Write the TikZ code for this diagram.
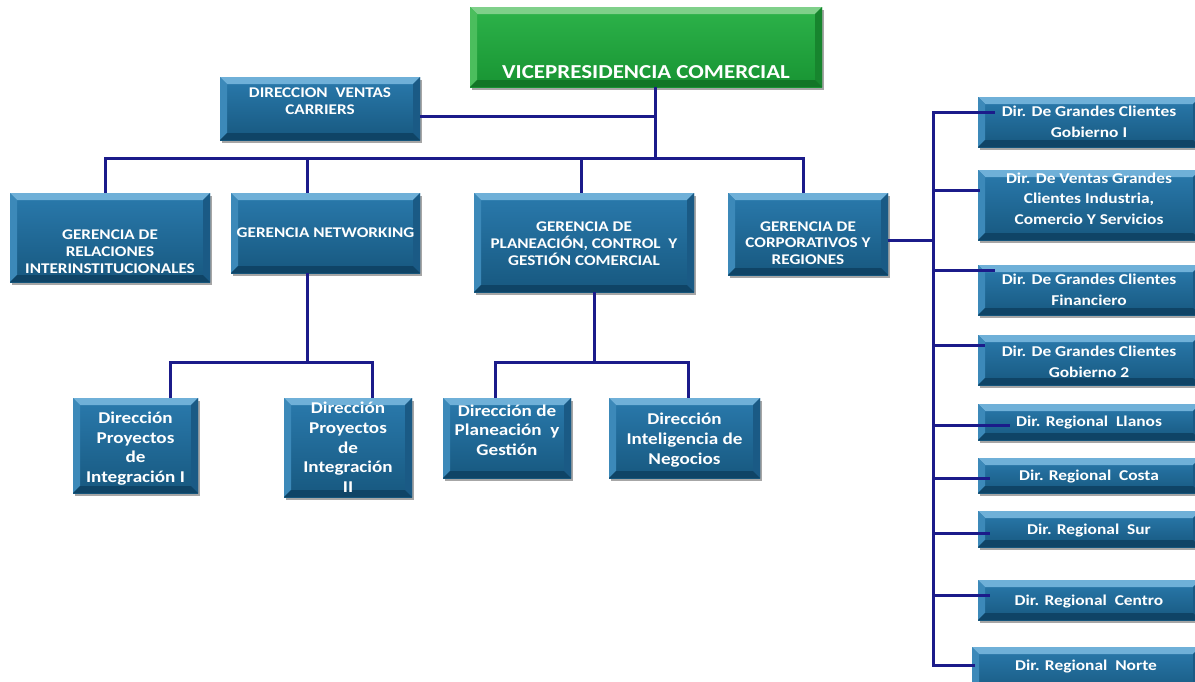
\documentclass[tikz,border=0pt]{standalone}
\usepackage{fontspec}
\setmainfont{Carlito}
\newfontfamily\carlw{Carlito}[FakeStretch=1.16]
\usetikzlibrary{shadows}
\definecolor{bT}{HTML}{2A7AAD}\definecolor{bB}{HTML}{17587F}
\definecolor{bHi}{HTML}{6FB0D8}\definecolor{bL}{HTML}{3C89B9}
\definecolor{bR}{HTML}{1A5A85}\definecolor{bD}{HTML}{0F4466}
\definecolor{gT}{HTML}{2DB34A}\definecolor{gB}{HTML}{189433}
\definecolor{gHi}{HTML}{7FD08A}\definecolor{gL}{HTML}{4BBE5D}
\definecolor{gR}{HTML}{17852E}\definecolor{gD}{HTML}{117526}
\definecolor{navy}{HTML}{1B1B8A}
\newcommand\mybevel[4]{%
 \fill[#1] (path picture bounding box.north west) -- (path picture bounding box.north east) -- ([shift={(-7pt,-7pt)}]path picture bounding box.north east) -- ([shift={(7pt,-7pt)}]path picture bounding box.north west) -- cycle;
 \fill[#2] (path picture bounding box.north west) -- (path picture bounding box.south west) -- ([shift={(7pt,7pt)}]path picture bounding box.south west) -- ([shift={(7pt,-7pt)}]path picture bounding box.north west) -- cycle;
 \fill[#3] (path picture bounding box.north east) -- (path picture bounding box.south east) -- ([shift={(-7pt,7pt)}]path picture bounding box.south east) -- ([shift={(-7pt,-7pt)}]path picture bounding box.north east) -- cycle;
 \fill[#4] (path picture bounding box.south west) -- (path picture bounding box.south east) -- ([shift={(-7pt,7pt)}]path picture bounding box.south east) -- ([shift={(7pt,7pt)}]path picture bounding box.south west) -- cycle;}
\tikzset{
 bbox/.style={draw=none, inner sep=0pt, top color=bT, bottom color=bB,
   drop shadow={shadow xshift=2pt,shadow yshift=-3pt,opacity=0.35,fill=black},
   path picture={\mybevel{bHi}{bL}{bR}{bD}}},
 gbox/.style={draw=none, inner sep=0pt, top color=gT, bottom color=gB,
   drop shadow={shadow xshift=2pt,shadow yshift=-3pt,opacity=0.35,fill=black},
   path picture={\mybevel{gHi}{gL}{gR}{gD}}},
 utxt/.style={text=white, align=center, font=\carlw\fontsize{14.8}{16.8}\selectfont\bfseries},
 ltxt/.style={text=white, align=center, font=\carlw\fontsize{16.5}{19.7}\selectfont\bfseries},
 rtxt/.style={text=white, align=center, font=\carlw\fontsize{15}{20.5}\selectfont\bfseries},
 conn/.style={draw=navy, line width=3pt}
}
\begin{document}
\begin{tikzpicture}[x=1pt,y=-1pt]
\useasboundingbox[fill=white] (0,0) rectangle (1195,681);
% boxes
\node[gbox, minimum width=352pt, minimum height=80pt] (vp) at (646,47) {};
\node[text=white, font=\carlw\fontsize{19.8}{22}\selectfont\bfseries] (vpt) at ([yshift=-25pt]vp.center) {VICEPRESIDENCIA COMERCIAL};
\node[bbox, minimum width=200pt, minimum height=63pt] (dvc) at (320,108.5) {};
\node[utxt] (dvct) at ([yshift=7pt]dvc.center) {DIRECCION\ \ VENTAS\\CARRIERS};
\node[bbox, minimum width=200pt, minimum height=89pt] (gri) at (110,237.5) {};
\node[utxt] (grit) at ([yshift=-14pt]gri.center) {GERENCIA DE\\RELACIONES\\INTERINSTITUCIONALES};
\node[bbox, minimum width=189pt, minimum height=80pt] (net) at (325.5,233) {};
\node[utxt] (nett) at ([yshift=0pt]net.center) {GERENCIA NETWORKING};
\node[bbox, minimum width=220pt, minimum height=99pt] (plan) at (584,242.5) {};
\node[utxt] (plant) at ([yshift=-1pt]plan.center) {GERENCIA DE\\PLANEACIÓN, CONTROL\ \ Y\\GESTIÓN COMERCIAL};
\node[bbox, minimum width=160pt, minimum height=82pt] (corp) at (808,234) {};
\node[utxt] (corpt) at ([yshift=-9pt]corp.center) {GERENCIA DE\\CORPORATIVOS Y\\REGIONES};
\node[bbox, minimum width=125pt, minimum height=95pt] (l1) at (135.5,445.5) {};
\node[ltxt] (l1t) at ([yshift=-3pt]l1.center) {Dirección\\Proyectos\\de\\Integración I};
\node[bbox, minimum width=128pt, minimum height=99pt] (l2) at (348,447.5) {};
\node[ltxt] (l2t) at (l2.center) {Dirección\\Proyectos\\de\\Integración\\II};
\node[bbox, minimum width=128pt, minimum height=80pt] (l3) at (507,438) {};
\node[ltxt] (l3t) at ([yshift=8pt]l3.center) {Dirección de\\Planeación\ \ y\\Gestión};
\node[bbox, minimum width=151pt, minimum height=80pt] (l4) at (684.5,438) {};
\node[ltxt] (l4t) at ([yshift=-2pt]l4.center) {Dirección\\Inteligencia de\\Negocios};
\node[bbox, minimum width=222pt, minimum height=50pt] (r1) at (1089,122) {};
\node[rtxt] (r1t) at (r1.center) {Dir. De Grandes Clientes\\Gobierno I};
\node[bbox, minimum width=222pt, minimum height=70pt] (r2) at (1089,205) {};
\node[rtxt] (r2t) at ([yshift=6.5pt]r2.center) {Dir. De Ventas Grandes\\Clientes Industria,\\Comercio Y Servicios};
\node[bbox, minimum width=222pt, minimum height=50pt] (r3) at (1089,290) {};
\node[rtxt] (r3t) at (r3.center) {Dir. De Grandes Clientes\\Financiero};
\node[bbox, minimum width=222pt, minimum height=50pt] (r4) at (1089,360) {};
\node[rtxt] (r4t) at ([yshift=-2pt]r4.center) {Dir. De Grandes Clientes\\Gobierno 2};
\node[bbox, minimum width=222pt, minimum height=36pt] (r5) at (1089,422) {};
\node[rtxt] (r5t) at ([yshift=-1pt]r5.center) {Dir. Regional\ \ Llanos};
\node[bbox, minimum width=222pt, minimum height=35pt] (r6) at (1089,475.5) {};
\node[rtxt] (r6t) at ([yshift=-1pt]r6.center) {Dir. Regional\ \ Costa};
\node[bbox, minimum width=222pt, minimum height=36pt] (r7) at (1089,529) {};
\node[rtxt] (r7t) at ([yshift=-1pt]r7.center) {Dir. Regional\ \ Sur};
\node[bbox, minimum width=222pt, minimum height=40pt] (r8) at (1089,600) {};
\node[rtxt] (r8t) at ([yshift=-1pt]r8.center) {Dir. Regional\ \ Centro};
\node[bbox, minimum width=228pt, minimum height=48pt] (r9) at (1086,671) {};
\node[rtxt] (r9t) at ([yshift=5pt]r9.center) {Dir. Regional\ \ Norte};
% connectors
\coordinate (j0) at (655,158);
\coordinate (j1) at (307,362);
\coordinate (j2) at (594,362);
\coordinate (sp) at (933,112);
\draw[conn] (vp.south -| j0) -- (j0);
\draw[conn] ([yshift=-8pt]dvc.east) -- ([yshift=-8pt]dvc.east -| j0);
\draw[conn] ([xshift=-5pt]gri.north) |- (j0);
\draw[conn] ([xshift=-18.5pt]net.north) |- (j0);
\draw[conn] ([xshift=-3pt]plan.north) |- (j0);
\draw[conn] ([xshift=-5pt]corp.north) |- (j0);
\draw[conn] (net.south -| j1) -- (j1);
\draw[conn] ([xshift=34.5pt]l1.north) |- (j1);
\draw[conn] ([xshift=24pt]l2.north) |- (j1);
\draw[conn] (plan.south -| j2) -- (j2);
\draw[conn] ([xshift=-12pt]l3.north) |- (j2);
\draw[conn] ([xshift=3.5pt]l4.north) |- (j2);
\draw[conn] ([yshift=-6pt]corp.east) -- ([yshift=-6pt]corp.east -| sp);
\draw[conn] ([shift={(17pt,10pt)}]r1.west) -| ([yshift=6pt]r9.west -| sp) -- ([shift={(3pt,6pt)}]r9.west);
\draw[conn] ([yshift=15pt]r2.west -| sp) -- ([shift={(2pt,15pt)}]r2.west);
\draw[conn] ([yshift=20pt]r3.west -| sp) -- ([shift={(17pt,20pt)}]r3.west);
\draw[conn] ([yshift=15pt]r4.west -| sp) -- ([shift={(7pt,15pt)}]r4.west);
\draw[conn] ([yshift=-3pt]r5.west -| sp) -- ([shift={(32pt,-3pt)}]r5.west);
\draw[conn] ([yshift=-2.5pt]r6.west -| sp) -- ([shift={(12pt,-2.5pt)}]r6.west);
\draw[conn] ([yshift=-4pt]r7.west -| sp) -- ([shift={(12pt,-4pt)}]r7.west);
\draw[conn] ([yshift=5pt]r8.west -| sp) -- ([shift={(12pt,5pt)}]r8.west);
\end{tikzpicture}
\end{document}
